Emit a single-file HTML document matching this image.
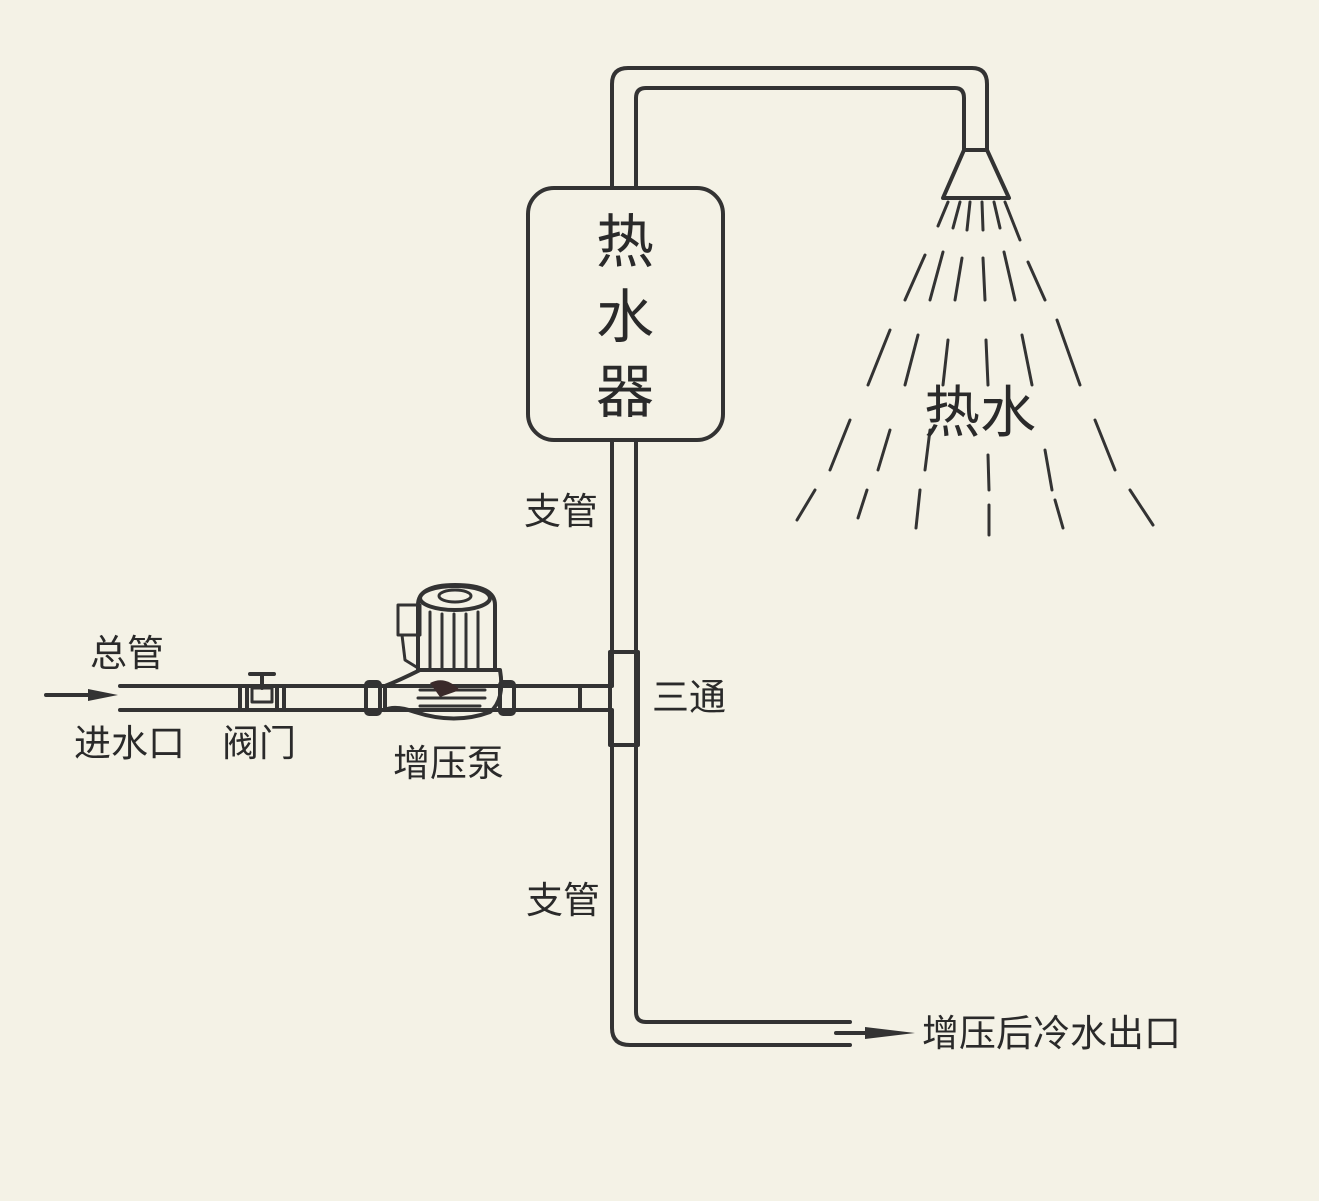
<!DOCTYPE html>
<html><head><meta charset="utf-8"><style>
html,body{margin:0;padding:0;background:#f4f2e6;}
svg{display:block;}
text{font-family:"Liberation Sans","Noto Sans CJK SC",sans-serif;fill:#2a2a2a;}
</style></head><body>
<svg width="1319" height="1201" viewBox="0 0 1319 1201" xmlns="http://www.w3.org/2000/svg">
<rect width="1319" height="1201" fill="#f4f2e6"/>
<g fill="none" stroke="#333" stroke-width="4" stroke-linejoin="round" stroke-linecap="round">
<path d="M612,188 L612,84 Q612,68 628,68 L972,68 Q987,68 987,84 L987,150"/>
<path d="M636,188 L636,98 Q636,88 646,88 L955,88 Q964,88 964,98 L964,150"/>
<path d="M964,150 L987,150 L1009,198 L943,198 Z"/>
<rect x="528" y="188" width="195" height="252" rx="26"/>
<path d="M612,440 L612,686"/>
<path d="M612,710 L612,1028 Q612,1045 630,1045 L850,1045"/>
<path d="M636,440 L636,1012 Q636,1022 646,1022 L850,1022"/>
<rect x="610" y="652" width="28" height="93"/>
<path d="M120,686 L610,686"/>
<path d="M120,710 L610,710"/>
<path d="M580,686 L580,710"/>
<rect x="240" y="686" width="44" height="24"/>
<path d="M247,686 L247,710 M277,686 L277,710"/>
<rect x="252" y="688" width="20" height="14" stroke-width="3"/>
<path d="M262,688 L262,676 M250,674 L274,674" stroke-width="4"/>
<rect x="366" y="682" width="14" height="32" rx="3"/>
<rect x="500" y="682" width="14" height="32" rx="3"/>
<path d="M385,686 Q400,680 420,670 L500,670 Q505,700 490,712 Q455,725 415,712 Q395,705 385,710 Z"/>
<path d="M420,690 L485,690 M418,698 L485,698 M420,706 L480,706" stroke-width="3"/>
<path d="M418,670 L418,605 Q418,585 455,585 Q495,585 495,605 L495,670"/>
<ellipse cx="455" cy="598" rx="35" ry="12"/>
<ellipse cx="455" cy="596" rx="16" ry="6" stroke-width="3"/>
<path d="M430,612 L430,668 M442,614 L442,668 M454,614 L454,668 M466,614 L466,668 M478,612 L478,668" stroke-width="3"/>
<rect x="398" y="605" width="22" height="30" stroke-width="3"/>
<path d="M402,635 L405,660 L418,668" stroke-width="3"/>
<path d="M46,695 L100,695"/>
<path d="M836,1033 L880,1033"/>
</g>
<path d="M88,689 L118,695 L88,701 Z" fill="#333"/>
<path d="M865,1027 L915,1033 L865,1039 Z" fill="#333"/>
<path d="M430,683 Q445,675 460,690 L440,697 Z" fill="#3a2a2a"/>
<g stroke="#333" stroke-width="3" stroke-linecap="round">
<path d="M948,202 L938,226 M925,255 L905,300 M890,330 L868,385 M850,420 L830,470 M815,490 L797,520"/>
<path d="M960,202 L953,228 M943,252 L930,300 M918,335 L905,385 M890,430 L878,470 M867,490 L858,518"/>
<path d="M970,202 L967,230 M962,258 L955,300 M948,340 L943,385 M930,430 L925,470 M920,490 L916,528"/>
<path d="M982,202 L983,230 M983,258 L985,300 M986,340 L988,385 M988,455 L989,490 M989,505 L989,535"/>
<path d="M994,202 L1000,228 M1004,252 L1015,300 M1022,335 L1032,385 M1045,450 L1052,490 M1055,500 L1063,528"/>
<path d="M1005,202 L1020,240 M1028,262 L1045,300 M1057,320 L1080,385 M1095,420 L1115,470 M1130,490 L1153,525"/>
</g>
<text x="625" y="262" font-size="58" text-anchor="middle">热</text>
<text x="625" y="337" font-size="58" text-anchor="middle">水</text>
<text x="625" y="412" font-size="58" text-anchor="middle">器</text>
<text x="980" y="432" font-size="56" text-anchor="middle">热水</text>
<text x="524" y="524" font-size="37">支管</text>
<text x="526" y="913" font-size="37">支管</text>
<text x="90" y="666" font-size="37">总管</text>
<text x="74" y="756" font-size="37">进水口</text>
<text x="222" y="756" font-size="37">阀门</text>
<text x="393" y="776" font-size="37">增压泵</text>
<text x="652" y="710" font-size="37">三通</text>
<text x="922" y="1046" font-size="37">增压后冷水出口</text>
</svg>
</body></html>
